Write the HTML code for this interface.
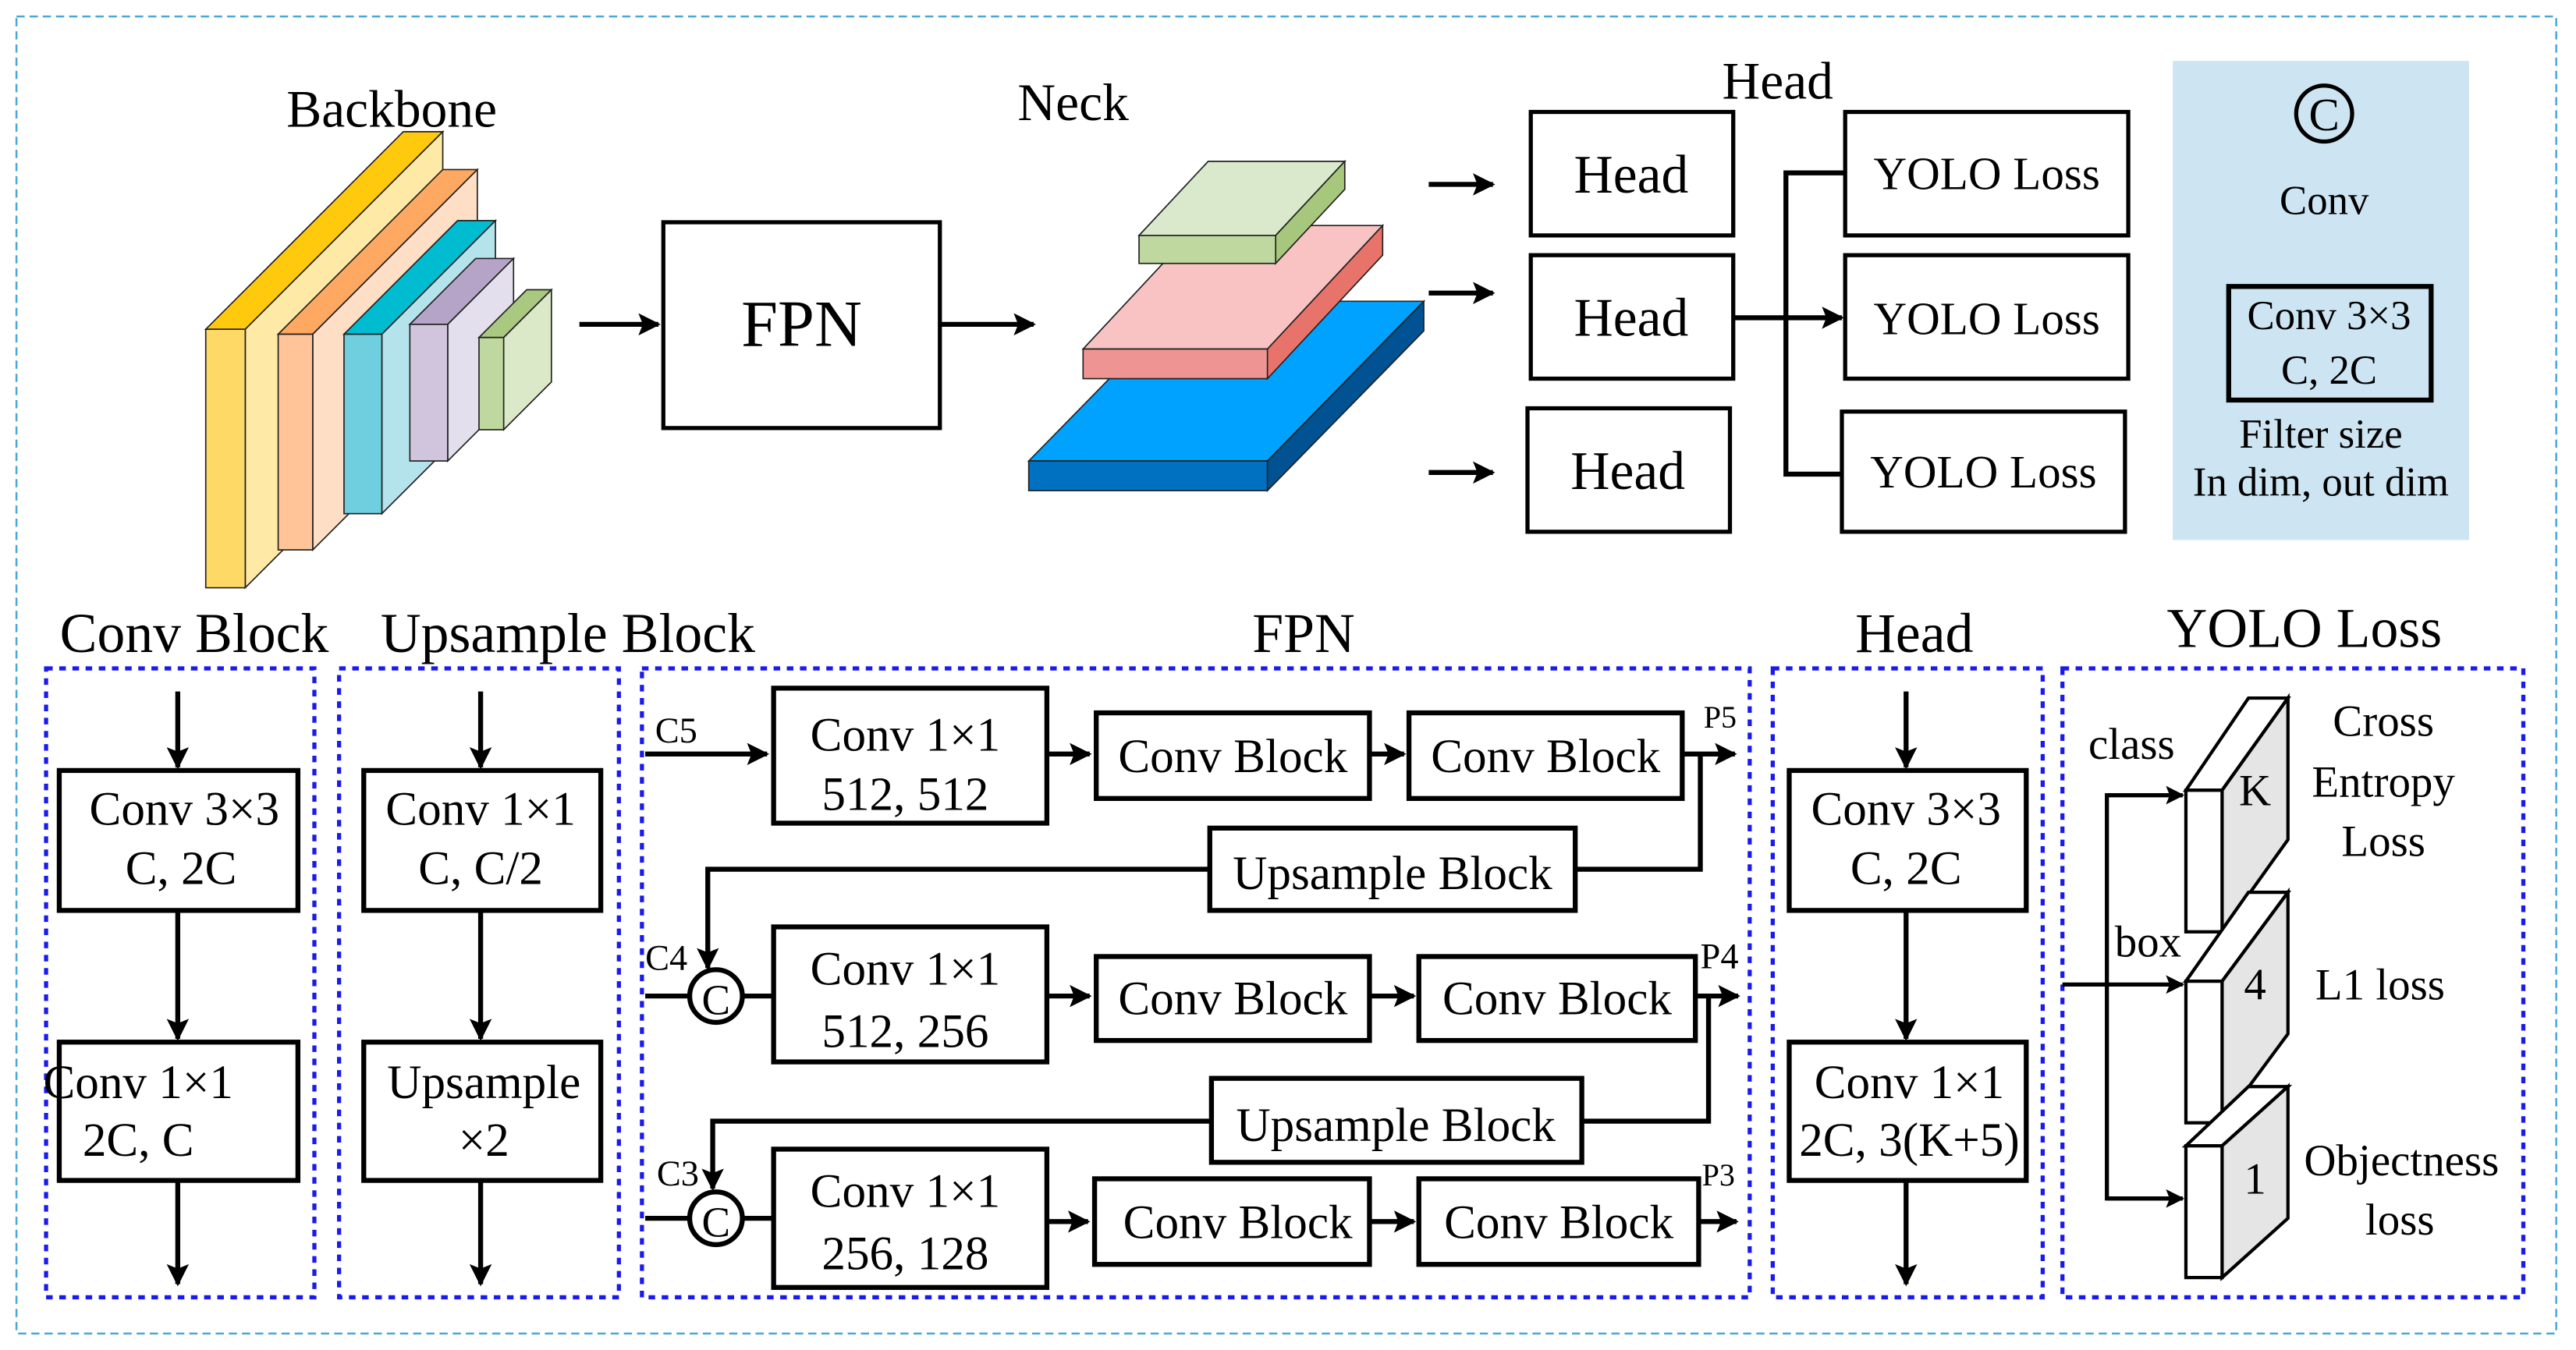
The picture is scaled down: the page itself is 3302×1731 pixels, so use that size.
<!DOCTYPE html>
<html><head><meta charset="utf-8"><style>html,body{margin:0;padding:0;background:#fff}svg{display:block}</style></head>
<body>
<svg width="3302" height="1731" viewBox="0 0 1565 820" preserveAspectRatio="none" xmlns="http://www.w3.org/2000/svg" font-family="'Liberation Serif', serif">
<defs>
<marker id="a" viewBox="0 0 10 10" refX="9" refY="5" markerWidth="4.5" markerHeight="4.5" orient="auto" markerUnits="strokeWidth"><path d="M0,0 L10,5 L0,10 L2,5z" fill="#000"/></marker>
</defs>
<rect x="10" y="10" width="1543" height="800" fill="none" stroke="#4aa8d8" stroke-width="1.2" stroke-dasharray="5,3"/>
<text x="238" y="77" font-size="32" text-anchor="middle">Backbone</text>
<g stroke="#222" stroke-width="0.8">
<polygon points="125,200 245,80 269,80 149,200" fill="#FFC90E"/>
<polygon points="149,200 269,80 269,237 149,357" fill="#FFE9A6"/>
<rect x="125" y="200" width="24" height="157" fill="#FFD966"/>
<polygon points="169,203 269,103 290,103 190,203" fill="#FFA861"/>
<polygon points="190,203 290,103 290,234 190,334" fill="#FFDEC6"/>
<rect x="169" y="203" width="21" height="131" fill="#FFC497"/>
<polygon points="209,203 278,134 301,134 232,203" fill="#00BCD0"/>
<polygon points="232,203 301,134 301,243 232,312" fill="#B4E3EC"/>
<rect x="209" y="203" width="23" height="109" fill="#70CFDF"/>
<polygon points="249,197 289,157 312,157 272,197" fill="#B6A3C8"/>
<polygon points="272,197 312,157 312,240 272,280" fill="#E3DFEC"/>
<rect x="249" y="197" width="23" height="83" fill="#D1C4DD"/>
<polygon points="291,205 320,176 335,176 306,205" fill="#A8C97F"/>
<polygon points="306,205 335,176 335,232 306,261" fill="#DBE9C9"/>
<rect x="291" y="205" width="15" height="56" fill="#BFD8A0"/>
</g>
<g stroke="#000" stroke-width="3" fill="none">
<line x1="352" y1="197" x2="400" y2="197" marker-end="url(#a)"/>
<rect x="403" y="135" width="168" height="125" stroke-width="2.5"/>
<line x1="571" y1="197" x2="628" y2="197" marker-end="url(#a)"/>
</g>
<text x="487" y="210" font-size="40" text-anchor="middle">FPN</text>
<text x="652" y="73" font-size="32" text-anchor="middle">Neck</text>
<g stroke="#222" stroke-width="0.8">
<polygon points="625,280 720,183 865,183 770,280" fill="#00A2FF"/>
<polygon points="770,280 865,183 865,201 770,298" fill="#005293"/>
<rect x="625" y="280" width="145" height="18" fill="#0070C0"/>
<polygon points="658,212 728,137 840,137 770,212" fill="#F8C3C2"/>
<polygon points="770,212 840,137 840,155 770,230" fill="#E8736A"/>
<rect x="658" y="212" width="112" height="18" fill="#EE9593"/>
<polygon points="692,143 734,98 817,98 775,143" fill="#DAE9CB"/>
<polygon points="775,143 817,98 817,115 775,160" fill="#A7C87C"/>
<rect x="692" y="143" width="83" height="17" fill="#BFD8A0"/>
</g>
<text x="1080" y="60" font-size="32" text-anchor="middle">Head</text>
<g stroke="#000" stroke-width="3" fill="none">
<line x1="868" y1="112" x2="907" y2="112" marker-end="url(#a)"/>
<line x1="868" y1="178" x2="907" y2="178" marker-end="url(#a)"/>
<line x1="868" y1="287" x2="907" y2="287" marker-end="url(#a)"/>
<rect x="930" y="68" width="123" height="75" stroke-width="2.5"/>
<rect x="930" y="155" width="123" height="75" stroke-width="2.5"/>
<rect x="928" y="248" width="123" height="75" stroke-width="2.5"/>
<line x1="1053" y1="193" x2="1119" y2="193" marker-end="url(#a)"/>
<polyline points="1121,105 1085,105 1085,288 1119,288"/>
<rect x="1121" y="68" width="172" height="75" stroke-width="2.5"/>
<rect x="1121" y="155" width="172" height="75" stroke-width="2.5"/>
<rect x="1119" y="250" width="172" height="73" stroke-width="2.5"/>
</g>
<g font-size="33" text-anchor="middle">
<text x="991" y="117">Head</text><text x="991" y="204">Head</text><text x="989" y="297">Head</text>
</g>
<g font-size="28" text-anchor="middle">
<text x="1207" y="115">YOLO Loss</text><text x="1207" y="203">YOLO Loss</text><text x="1205" y="296">YOLO Loss</text>
</g>
<rect x="1320" y="37" width="180" height="291" fill="#CDE5F2"/>
<circle cx="1412" cy="69" r="17" fill="none" stroke="#000" stroke-width="2.5"/>
<text x="1412" y="79" font-size="28" text-anchor="middle">C</text>
<text x="1412" y="130" font-size="25" text-anchor="middle">Conv</text>
<rect x="1354" y="174" width="123" height="69" fill="none" stroke="#000" stroke-width="3"/>
<g font-size="25" text-anchor="middle">
<text x="1415" y="200">Conv 3×3</text><text x="1415" y="233">C, 2C</text>
<text x="1410" y="272">Filter size</text><text x="1410" y="301">In dim, out dim</text>
</g>
<g font-size="34" text-anchor="middle">
<text x="118" y="396">Conv Block</text><text x="345" y="396">Upsample Block</text>
<text x="792" y="396">FPN</text><text x="1163" y="396">Head</text><text x="1400" y="393">YOLO Loss</text>
</g>
<g fill="none" stroke="#1a1aee" stroke-width="2.5" stroke-dasharray="4,4">
<rect x="28" y="406" width="163" height="382"/>
<rect x="206" y="406" width="170" height="382"/>
<rect x="390" y="406" width="673" height="382"/>
<rect x="1077" y="406" width="164" height="382"/>
<rect x="1253" y="406" width="280" height="382"/>
</g>
<g stroke="#000" stroke-width="3" fill="none">
<line x1="108" y1="420" x2="108" y2="466" marker-end="url(#a)"/>
<rect x="36" y="468" width="145" height="85"/>
<line x1="108" y1="553" x2="108" y2="631" marker-end="url(#a)"/>
<rect x="36" y="633" width="145" height="84"/>
<line x1="108" y1="717" x2="108" y2="780" marker-end="url(#a)"/>
<line x1="292" y1="420" x2="292" y2="466" marker-end="url(#a)"/>
<rect x="221" y="468" width="144" height="85"/>
<line x1="292" y1="553" x2="292" y2="631" marker-end="url(#a)"/>
<rect x="221" y="633" width="144" height="84"/>
<line x1="292" y1="717" x2="292" y2="780" marker-end="url(#a)"/>
<line x1="1158" y1="420" x2="1158" y2="466" marker-end="url(#a)"/>
<rect x="1087" y="468" width="144" height="85"/>
<line x1="1158" y1="553" x2="1158" y2="631" marker-end="url(#a)"/>
<rect x="1087" y="633" width="144" height="84"/>
<line x1="1158" y1="717" x2="1158" y2="780" marker-end="url(#a)"/>
</g>
<g font-size="29" text-anchor="middle">
<text x="112" y="501">Conv 3×3</text><text x="110" y="537">C, 2C</text>
<text x="84" y="667">Conv 1×1</text><text x="84" y="702">2C, C</text>
<text x="292" y="501">Conv 1×1</text><text x="292" y="537">C, C/2</text>
<text x="294" y="667">Upsample</text><text x="294" y="702">×2</text>
<text x="1158" y="501">Conv 3×3</text><text x="1158" y="537">C, 2C</text>
<text x="1160" y="667">Conv 1×1</text><text x="1160" y="702">2C, 3(K+5)</text>
</g>
<g stroke="#000" stroke-width="3" fill="none">
<line x1="392" y1="458" x2="466" y2="458" marker-end="url(#a)"/>
<rect x="470" y="418" width="166" height="82"/>
<line x1="636" y1="458" x2="662" y2="458" marker-end="url(#a)"/>
<rect x="666" y="433" width="166" height="52"/>
<line x1="832" y1="458" x2="853" y2="458" marker-end="url(#a)"/>
<rect x="856" y="433" width="166" height="52"/>
<line x1="1022" y1="458" x2="1054" y2="458" marker-end="url(#a)"/>
<polyline points="1033,458 1033,528 957,528"/>
<rect x="735" y="503" width="222" height="50"/>
<polyline points="735,528 430,528 430,588" marker-end="url(#a)"/>
<circle cx="435" cy="605" r="16"/>
<line x1="392" y1="605" x2="419" y2="605"/>
<line x1="451" y1="605" x2="470" y2="605"/>
<rect x="470" y="563" width="166" height="82"/>
<line x1="636" y1="605" x2="662" y2="605" marker-end="url(#a)"/>
<rect x="666" y="581" width="166" height="51"/>
<line x1="832" y1="605" x2="859" y2="605" marker-end="url(#a)"/>
<rect x="862" y="581" width="168" height="51"/>
<line x1="1030" y1="605" x2="1056" y2="605" marker-end="url(#a)"/>
<polyline points="1038,605 1038,681 961,681"/>
<rect x="736" y="655" width="225" height="51"/>
<polyline points="736,681 433,681 433,722" marker-end="url(#a)"/>
<circle cx="435" cy="740" r="16"/>
<line x1="392" y1="740" x2="419" y2="740"/>
<line x1="451" y1="740" x2="470" y2="740"/>
<rect x="470" y="698" width="166" height="84"/>
<line x1="636" y1="742" x2="661" y2="742" marker-end="url(#a)"/>
<rect x="665" y="716" width="167" height="52"/>
<line x1="832" y1="742" x2="859" y2="742" marker-end="url(#a)"/>
<rect x="862" y="716" width="170" height="52"/>
<line x1="1032" y1="742" x2="1055" y2="742" marker-end="url(#a)"/>
</g>
<g font-size="29" text-anchor="middle">
<text x="550" y="456">Conv 1×1</text><text x="550" y="492">512, 512</text>
<text x="749" y="469">Conv Block</text><text x="939" y="469">Conv Block</text>
<text x="846" y="540">Upsample Block</text>
<text x="550" y="598">Conv 1×1</text><text x="550" y="636">512, 256</text>
<text x="749" y="616">Conv Block</text><text x="946" y="616">Conv Block</text>
<text x="848" y="693">Upsample Block</text>
<text x="550" y="733">Conv 1×1</text><text x="550" y="771">256, 128</text>
<text x="752" y="752">Conv Block</text><text x="947" y="752">Conv Block</text>
<text x="435" y="616" font-size="26">C</text><text x="435" y="751" font-size="26">C</text>
</g>
<g font-size="22">
<text x="398" y="451">C5</text><text x="392" y="589">C4</text><text x="399" y="720">C3</text>
<text x="1035" y="442" font-size="19">P5</text><text x="1033" y="588">P4</text><text x="1034" y="720" font-size="19">P3</text>
</g>
<g stroke="#000" stroke-width="2">
<polygon points="1328,480 1366,424 1390,424 1350,480" fill="#fff"/>
<polygon points="1350,480 1390,424 1390,510 1350,566" fill="#e5e5e5"/>
<rect x="1328" y="480" width="22" height="86" fill="#fff"/>
<polygon points="1328,596 1366,542 1390,542 1350,596" fill="#fff"/>
<polygon points="1350,596 1390,542 1390,628 1350,682" fill="#e5e5e5"/>
<rect x="1328" y="596" width="22" height="86" fill="#fff"/>
<polygon points="1328,696 1366,660 1390,660 1350,696" fill="#fff"/>
<polygon points="1350,696 1390,660 1390,740 1350,776" fill="#e5e5e5"/>
<rect x="1328" y="696" width="22" height="80" fill="#fff"/>
</g>
<g stroke="#000" stroke-width="2.5" fill="none">
<line x1="1253" y1="598" x2="1326" y2="598" marker-end="url(#a)"/>
<polyline points="1326,483 1280,483 1280,728 1326,728"/>
<line x1="1280" y1="483" x2="1326" y2="483" marker-end="url(#a)"/>
<line x1="1280" y1="728" x2="1326" y2="728" marker-end="url(#a)"/>
</g>
<g font-size="27" text-anchor="middle">
<text x="1370" y="489">K</text><text x="1370" y="607">4</text><text x="1370" y="725">1</text>
<text x="1295" y="461">class</text><text x="1305" y="581">box</text>
<text x="1448" y="447">Cross</text><text x="1448" y="484">Entropy</text><text x="1448" y="520">Loss</text>
<text x="1446" y="607">L1 loss</text>
<text x="1459" y="714">Objectness</text><text x="1458" y="750">loss</text>
</g>
</svg>
</body></html>
